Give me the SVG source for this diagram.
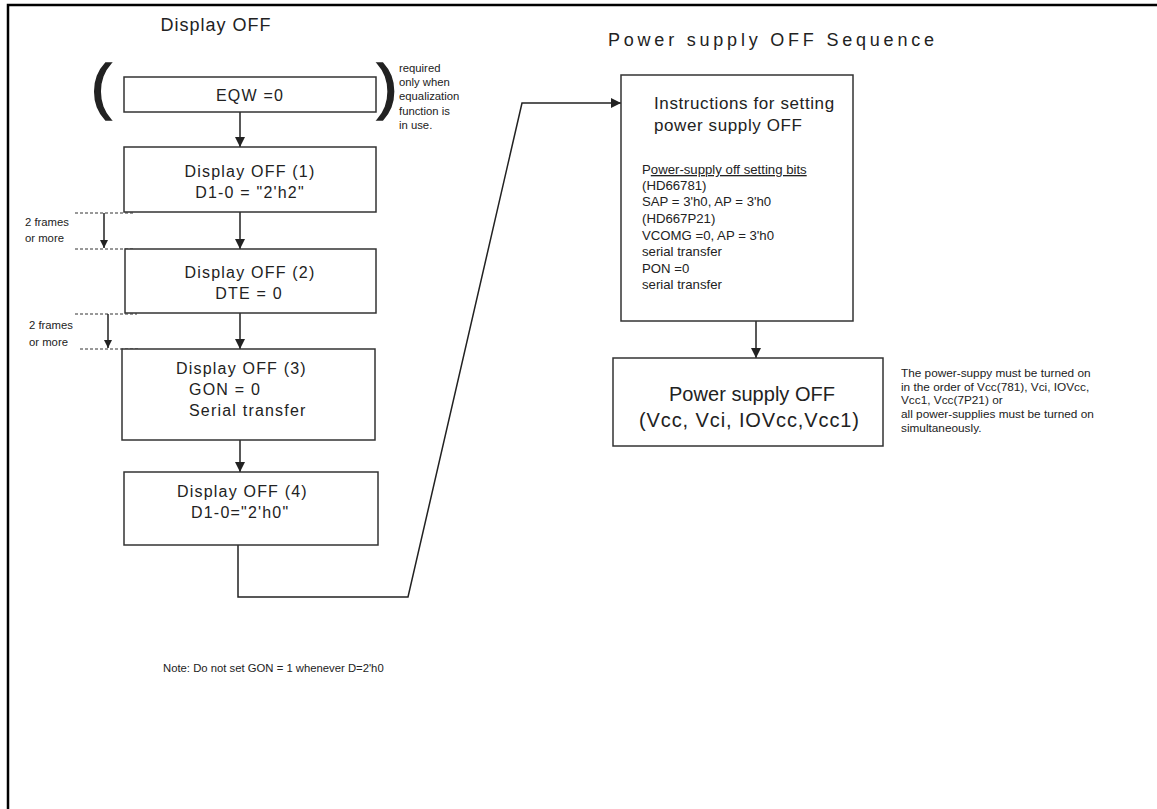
<svg xmlns="http://www.w3.org/2000/svg" width="1157" height="809" viewBox="0 0 1157 809">
<defs>
<style>
text{font-family:"Liberation Sans",Arial,sans-serif;fill:#222}
.title{font-size:18px;letter-spacing:1px}
.bx{font-size:16px;letter-spacing:1.2px}
.sm{font-size:11.3px}
.rn{font-size:11.8px}
.ins{font-size:17px;letter-spacing:0.6px}
.body{font-size:13.2px}
.big{font-size:20px}
.par{font-size:61px;stroke:#222;stroke-width:1.6}
.box{fill:#fff;stroke:#333;stroke-width:1.5}
.ln{fill:none;stroke:#222;stroke-width:1.5}
.dash{fill:none;stroke:#333;stroke-width:1;stroke-dasharray:3,2}
</style>
<marker id="ah" markerWidth="10" markerHeight="10" refX="10" refY="5" orient="auto" markerUnits="userSpaceOnUse" viewBox="0 0 10 10">
<path d="M0,0 L10,5 L0,10 z" fill="#222"/>
</marker>
<marker id="ahs" markerWidth="8" markerHeight="8" refX="8" refY="4" orient="auto" markerUnits="userSpaceOnUse" viewBox="0 0 8 8">
<path d="M0,0 L8,4 L0,8 z" fill="#222"/>
</marker>
</defs>
<rect width="1157" height="809" fill="#fff"/>
<path d="M8 809 V5 H1157" fill="none" stroke="#000" stroke-width="2.5"/>

<text class="title" x="216" y="31" text-anchor="middle">Display OFF</text>
<text class="title" x="608" y="46" textLength="327" lengthAdjust="spacing">Power supply OFF Sequence</text>

<g id="connectors">
<line class="ln" x1="240" y1="112" x2="240" y2="147" marker-end="url(#ah)"/>
<line class="ln" x1="240" y1="212" x2="240" y2="249" marker-end="url(#ah)"/>
<line class="ln" x1="240" y1="313" x2="240" y2="349" marker-end="url(#ah)"/>
<line class="ln" x1="240" y1="440" x2="240" y2="472" marker-end="url(#ah)"/>
<path class="ln" d="M238 545 V597 H408 L522 103 H621" marker-end="url(#ah)"/>
<line class="ln" x1="756" y1="321" x2="756" y2="358" marker-end="url(#ah)"/>
<line class="dash" x1="75" y1="213" x2="133" y2="213"/>
<line class="dash" x1="75" y1="249" x2="135" y2="249"/>
<line class="ln" stroke-width="1" x1="104" y1="213" x2="104" y2="248" marker-end="url(#ahs)"/>
<line class="dash" x1="75" y1="314" x2="137" y2="314"/>
<line class="dash" x1="80" y1="349" x2="138" y2="349"/>
<line class="ln" stroke-width="1" x1="108" y1="314" x2="108" y2="348" marker-end="url(#ahs)"/>
</g>

<g id="eqw">
<text class="par" x="91" y="107">(</text>
<rect class="box" x="124" y="77" width="252" height="35"/>
<text class="bx" x="250" y="101" text-anchor="middle">EQW =0</text>
<text class="par" x="377" y="107">)</text>
</g>
<g id="eqw-note">
<text class="sm" x="399" y="72">required</text>
<text class="sm" x="399" y="86">only when</text>
<text class="sm" x="399" y="100">equalization</text>
<text class="sm" x="399" y="115">function is</text>
<text class="sm" x="399" y="129">in use.</text>
</g>

<g id="off1">
<rect class="box" x="124" y="147" width="252" height="65"/>
<text class="bx" x="250" y="177" text-anchor="middle">Display OFF (1)</text>
<text class="bx" x="250" y="198" text-anchor="middle">D1-0 = "2'h2"</text>
</g>
<g id="frames1">
<text class="sm" x="25" y="226">2 frames</text>
<text class="sm" x="25" y="242">or more</text>
</g>
<g id="off2">
<rect class="box" x="125" y="249" width="251" height="64"/>
<text class="bx" x="250" y="278" text-anchor="middle">Display OFF (2)</text>
<text class="bx" x="249" y="299" text-anchor="middle">DTE = 0</text>
</g>
<g id="frames2">
<text class="sm" x="29" y="329">2 frames</text>
<text class="sm" x="29" y="346">or more</text>
</g>
<g id="off3">
<rect class="box" x="122" y="349" width="253" height="91"/>
<text class="bx" x="176" y="374">Display OFF (3)</text>
<text class="bx" x="189" y="395">GON = 0</text>
<text class="bx" x="189" y="416">Serial transfer</text>
</g>
<g id="off4">
<rect class="box" x="124" y="472" width="254" height="73"/>
<text class="bx" x="177" y="497">Display OFF (4)</text>
<text class="bx" x="191" y="518">D1-0="2'h0"</text>
</g>

<g id="instructions">
<rect class="box" x="621" y="75" width="232" height="246"/>
<text class="ins" x="654" y="109">Instructions for setting</text>
<text class="ins" x="654" y="131">power supply OFF</text>
<text class="body" x="642" y="174">P<tspan text-decoration="underline">ower-supply off setting bits</tspan></text>
<text class="body" x="642" y="190">(HD66781)</text>
<text class="body" x="642" y="206">SAP = 3'h0, AP = 3'h0</text>
<text class="body" x="642" y="223">(HD667P21)</text>
<text class="body" x="642" y="240">VCOMG =0, AP = 3'h0</text>
<text class="body" x="642" y="256">serial transfer</text>
<text class="body" x="642" y="273">PON =0</text>
<text class="body" x="642" y="289">serial transfer</text>
</g>

<g id="psoff">
<rect class="box" x="613" y="358" width="270" height="88"/>
<text class="big" x="669" y="401" textLength="166" lengthAdjust="spacing">Power supply OFF</text>
<text class="big" x="639" y="427" textLength="220" lengthAdjust="spacing">(Vcc, Vci, IOVcc,Vcc1)</text>
</g>
<g id="ps-note">
<text class="rn" x="901" y="377">The power-suppy must be turned on</text>
<text class="rn" x="901" y="391">in the order of Vcc(781), Vci, IOVcc,</text>
<text class="rn" x="901" y="404">Vcc1, Vcc(7P21) or</text>
<text class="rn" x="901" y="418">all power-supplies must be turned on</text>
<text class="rn" x="901" y="432">simultaneously.</text>
</g>

<text class="sm" x="163" y="672">Note: Do not set GON = 1 whenever D=2'h0</text>
</svg>
